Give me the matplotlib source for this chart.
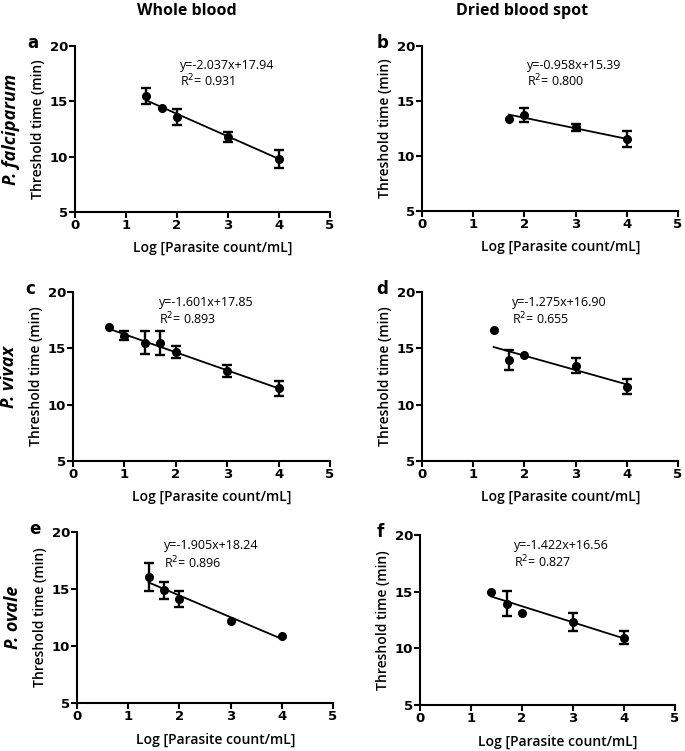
import matplotlib
matplotlib.use('Agg')
import matplotlib.pyplot as plt

# ---------------------DATA-------------------------------------------
# log parasite count / mean threshold time / error bar half-height
x_a = [1.4, 1.7, 2.0, 3.0, 4.0]
y_a = [15.5, 14.4, 13.6, 11.8, 9.8]
e_a = [0.7, 0.0, 0.7, 0.45, 0.8]

x_b = [1.7, 2.0, 3.0, 4.0]
y_b = [13.4, 13.7, 12.6, 11.55]
e_b = [0.0, 0.65, 0.35, 0.7]

x_c = [0.7, 1.0, 1.4, 1.7, 2.0, 3.0, 4.0]
y_c = [16.85, 16.1, 15.5, 15.5, 14.65, 13.0, 11.45]
e_c = [0.0, 0.4, 1.0, 1.05, 0.55, 0.55, 0.65]

x_d = [1.4, 1.7, 2.0, 3.0, 4.0]
y_d = [16.65, 13.95, 14.4, 13.45, 11.6]
e_d = [0.0, 0.9, 0.0, 0.65, 0.65]

x_e = [1.4, 1.7, 2.0, 3.0, 4.0]
y_e = [16.05, 14.9, 14.1, 12.2, 10.9]
e_e = [1.25, 0.75, 0.7, 0.0, 0.0]

x_f = [1.4, 1.7, 2.0, 3.0, 4.0]
y_f = [15.0, 13.95, 13.15, 12.3, 10.95]
e_f = [0.0, 1.1, 0.0, 0.8, 0.55]

# fitted lines (slope, intercept, r2)
fits = [(-2.037, 17.94, '0.931'), (-0.958, 15.39, '0.800'),
        (-1.601, 17.85, '0.893'), (-1.275, 16.90, '0.655'),
        (-1.905, 18.24, '0.896'), (-1.422, 16.56, '0.827')]
letters = ['a', 'b', 'c', 'd', 'e', 'f']
species = ['P. falciparum', 'P. vivax', 'P. ovale']
col_titles = ['Whole blood', 'Dried blood spot']
# --------------------------------------------------------------------

W, H = 685, 751
fig = plt.figure(figsize=(W / 100, H / 100), dpi=100)

# axes boxes in pixels: left, right, top, bottom
boxes = [(75, 330, 46, 212), (422, 678, 46, 211),
         (73, 330, 292, 461), (422, 678, 292, 461),
         (77, 333, 532, 703), (420, 675, 535, 705)]
# equation text position (axes fraction)
eq_pos = [(0.41, 0.88, 0.79), (0.41, 0.88, 0.79),
          (0.335, 0.94, 0.84), (0.35, 0.94, 0.84),
          (0.34, 0.92, 0.82), (0.37, 0.94, 0.84)]

data = [(x_a, y_a, e_a), (x_b, y_b, e_b), (x_c, y_c, e_c),
        (x_d, y_d, e_d), (x_e, y_e, e_e), (x_f, y_f, e_f)]

tickfont = {'family': 'DejaVu Sans', 'weight': 'bold', 'size': 9.5}

for i, (xs, ys, es) in enumerate(data):
    l, r, t, b = boxes[i]
    ax = fig.add_axes([l / W, 1 - b / H, (r - l) / W, (b - t) / H])
    ax.set_xlim(0, 5)
    ax.set_ylim(5, 20)
    ax.spines['top'].set_visible(False)
    ax.spines['right'].set_visible(False)
    for s in ['left', 'bottom']:
        ax.spines[s].set_linewidth(1.5)
    ax.set_xticks([0, 1, 2, 3, 4, 5])
    ax.set_yticks([5, 10, 15, 20])
    ax.tick_params(direction='out', length=4, width=1.5, pad=1)
    for lab in ax.get_xticklabels() + ax.get_yticklabels():
        lab.set_fontproperties(tickfont)

    m, c, r2 = fits[i]
    x0, x1 = min(xs), max(xs)
    ax.plot([x0, x1], [m * x0 + c, m * x1 + c], color='black', lw=1.3)

    # points with a spread get error bars, single measurements only a dot
    xe = [x for x, e in zip(xs, es) if e > 0]
    ye = [y for y, e in zip(ys, es) if e > 0]
    ee = [e for e in es if e > 0]
    ax.errorbar(xe, ye, yerr=ee, fmt='none', ecolor='black',
                elinewidth=1.7, capsize=3.5, capthick=1.7)
    ax.plot(xs, ys, 'o', color='black', ms=5.5)

    ex, ey1, ey2 = eq_pos[i]
    ax.text(ex, ey1, 'y=%.3fx+%.2f' % (m, c), transform=ax.transAxes,
            fontsize=9, family='Open Sans', va='center')
    ax.text(ex, ey2, 'R$^2$= ' + r2, transform=ax.transAxes,
            fontsize=9, family='Open Sans', va='center')

    ax.set_xlabel('Log [Parasite count/mL]', fontsize=10, family='Open Sans',
                  fontweight='semibold', va='center')
    ax.xaxis.set_label_coords(0.54, -0.215)
    ax.set_ylabel('Threshold time (min)', fontsize=10, family='Open Sans',
                  fontweight='semibold', va='center')
    ax.yaxis.set_label_coords(-0.145, 0.5)

    ax.text(-0.165 if i % 2 == 0 else -0.155, 1.02, letters[i], transform=ax.transAxes,
            fontsize=12, fontweight='bold', family='DejaVu Sans', ha='center', va='center')

    if i % 2 == 0:
        ax.text(-0.25, 0.5, species[i // 2], transform=ax.transAxes, rotation=90,
                fontsize=13, fontweight='bold', fontstyle='italic', family='Open Sans',
                ha='center', va='center')

for j, title in enumerate(col_titles):
    fig.text([187, 522][j] / W, 1 - 11 / H, title, fontsize=11.5, fontweight='bold',
             family='Open Sans', ha='center', va='center')

fig.savefig('out.png', dpi=100)
